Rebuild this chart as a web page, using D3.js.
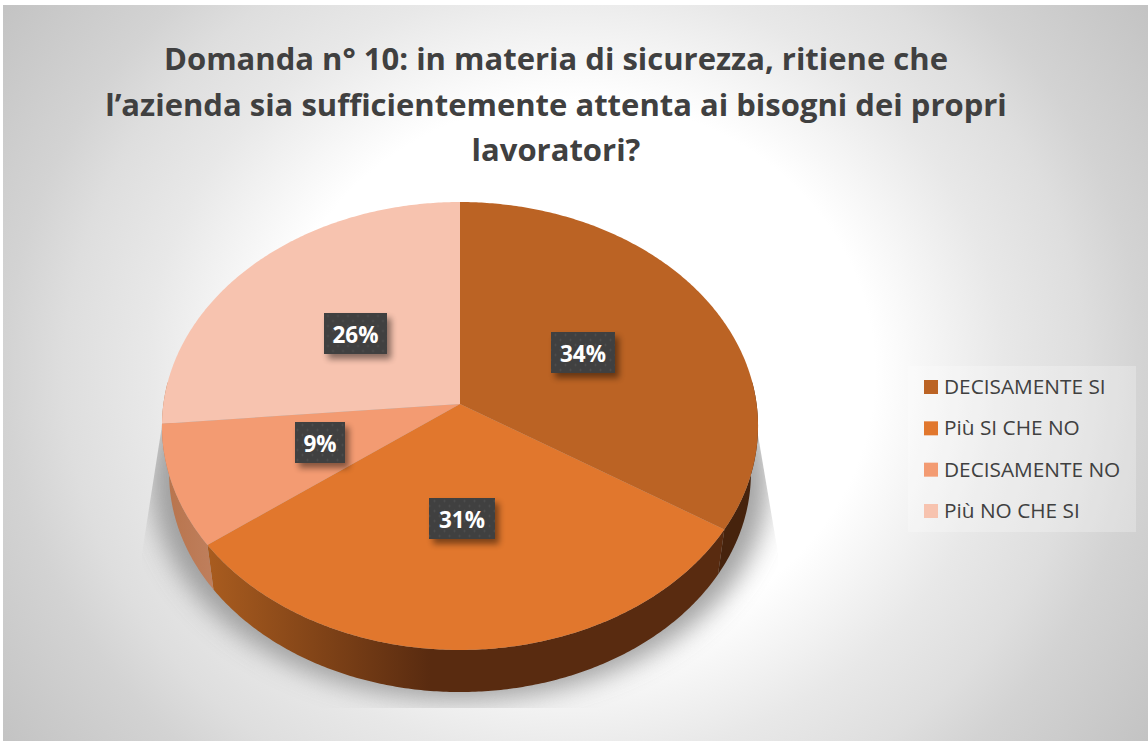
<!DOCTYPE html>
<html>
<head>
<meta charset="utf-8">
<script src="https://cdn.jsdelivr.net/npm/d3@7"></script>
<style>
    html, body { margin: 0; padding: 0; background: #fff; }
    svg { display: block; }
</style>
</head>
<body>
<div id="chart"></div>
<script>
const titleLines = [
    'Domanda n° 10: in materia di sicurezza, ritiene che',
    'l’azienda sia sufficientemente attenta ai bisogni dei propri',
    'lavoratori?'
];
const categories = ['DECISAMENTE SI', 'Più SI CHE NO', 'DECISAMENTE NO', 'Più NO CHE SI'];
const values = [34.0, 30.8, 8.8, 26.4];
const topColors = ['#bb6324', '#e1772d', '#f39b72', '#f7c3af'];

const width = 1148;
const height = 741;

const svg = d3.select('#chart').append('svg')
    .attr('width', width)
    .attr('height', height);

const defs = svg.append('defs');

// Background: grey edges fading to a white middle
let bg = defs.append('radialGradient')
    .attr('id', 'bg')
    .attr('gradientUnits', 'userSpaceOnUse')
    .attr('cx', 575).attr('cy', 372).attr('r', 702)
    .attr('gradientTransform', 'translate(0,372) scale(1,0.909) translate(0,-372)');
bg.append('stop').attr('offset', '0').attr('stop-color', '#ffffff');
bg.append('stop').attr('offset', '0.427').attr('stop-color', '#ffffff');
bg.append('stop').attr('offset', '0.61').attr('stop-color', '#e8e8e8');
bg.append('stop').attr('offset', '0.727').attr('stop-color', '#dedede');
bg.append('stop').attr('offset', '0.81').attr('stop-color', '#d3d3d3');
bg.append('stop').attr('offset', '1').attr('stop-color', '#c3c3c3');

let wallGrad = defs.append('linearGradient')
    .attr('id', 'wallOrange')
    .attr('gradientUnits', 'userSpaceOnUse')
    .attr('x1', 208).attr('x2', 430).attr('y1', 0).attr('y2', 0);
wallGrad.append('stop').attr('offset', '0').attr('stop-color', '#a95c1f');
wallGrad.append('stop').attr('offset', '1').attr('stop-color', '#592b10');

let wallGradLight = defs.append('linearGradient')
    .attr('id', 'wallLight')
    .attr('gradientUnits', 'userSpaceOnUse')
    .attr('x1', 165).attr('x2', 214).attr('y1', 0).attr('y2', 0);
wallGradLight.append('stop').attr('offset', '0').attr('stop-color', '#b8744c');
wallGradLight.append('stop').attr('offset', '1').attr('stop-color', '#bf7f5d');

defs.append('filter').attr('id', 'shadowBlur')
    .attr('x', '-20%').attr('y', '-20%').attr('width', '140%').attr('height', '140%')
    .append('feGaussianBlur').attr('stdDeviation', 13);

defs.append('filter').attr('id', 'labelBlur')
    .attr('x', '-30%').attr('y', '-30%').attr('width', '160%').attr('height', '160%')
    .append('feGaussianBlur').attr('stdDeviation', 3);

let dots = defs.append('pattern')
    .attr('id', 'dots')
    .attr('patternUnits', 'userSpaceOnUse')
    .attr('width', 10).attr('height', 10);
dots.append('rect').attr('width', 10).attr('height', 10).attr('fill', '#404040');
dots.append('circle').attr('cx', 2.5).attr('cy', 2.5).attr('r', 1).attr('fill', '#505050');
dots.append('circle').attr('cx', 7.5).attr('cy', 7.5).attr('r', 1).attr('fill', '#505050');

// Shadow box narrows towards the top, sides lean in
defs.append('clipPath').attr('id', 'shadowClip')
    .append('polygon')
    .attr('points', '166,400 142,553 142,708 778,708 778,553 752,400');

svg.append('rect')
    .attr('x', 3).attr('y', 5)
    .attr('width', width - 3).attr('height', height - 5)
    .attr('fill', 'url(#bg)');

// Title
const title = svg.append('text')
    .attr('text-anchor', 'middle')
    .attr('font-family', '"Open Sans", sans-serif')
    .attr('font-weight', 700)
    .attr('font-size', 31)
    .attr('fill', '#404040');
titleLines.forEach((line, i) => {
    title.append('tspan')
        .attr('x', 556)
        .attr('y', 70 + i * 45.5)
        .text(line);
});

// Pie angles, then a perspective mapping from the unit circle to the screen
const pie = d3.pie().sort(null).value(d => d);
const arcs = pie(values);

const cx = 460, cy = 404, radiusX = 296.6, radiusY = 221.8, tilt = 0.0982;
const depth = 48, shrink = 0.976;

function project(angle, r, bottom) {
    let u = r * Math.sin(angle);
    let v = -r * Math.cos(angle);
    let d = 1 - tilt * v;
    let x = radiusX * u / d;
    let y = radiusY * v / d;
    if (bottom) {
        return [cx + x * shrink, cy + y * shrink + depth];
    }
    return [cx + x, cy + y];
}

const line = d3.line();

function rim(a0, a1, bottom) {
    let n = Math.max(2, Math.ceil((a1 - a0) / 0.01));
    let scale = d3.scaleLinear().domain([0, n]).range([a0, a1]);
    return d3.range(n + 1).map(i => project(scale(i), 1, bottom));
}

// Ground shadow, clipped by its box like in the original
svg.append('g')
    .attr('clip-path', 'url(#shadowClip)')
    .append('path')
    .attr('d', line(rim(0, 2 * Math.PI, true).map(p => [cx + (p[0] - cx) * 1.06, p[1] + 8])) + 'Z')
    .attr('fill', '#8c8c8c')
    .attr('opacity', 0.8)
    .attr('filter', 'url(#shadowBlur)');

// Side wall, only on the front half
const wallFills = ['#46230d', 'url(#wallOrange)', 'url(#wallLight)', '#b8744c'];
const wallFrom = Math.PI / 2 - 0.1, wallTo = 3 * Math.PI / 2 + 0.1;
svg.append('g').selectAll('path')
    .data(arcs)
    .join('path')
    .attr('d', d => {
        let a0 = Math.max(d.startAngle, wallFrom);
        let a1 = Math.min(d.endAngle, wallTo);
        if (a1 <= a0) return null;
        return line(rim(a0, a1, false).concat(rim(a0, a1, true).reverse())) + 'Z';
    })
    .attr('fill', (d, i) => wallFills[i]);

// Top face
svg.append('g').selectAll('path')
    .data(arcs)
    .join('path')
    .attr('d', d => line([[cx, cy]].concat(rim(d.startAngle, d.endAngle, false))) + 'Z')
    .attr('fill', (d, i) => topColors[i]);

// Data labels
const labelW = [64, 66, 50, 63];
const labelAt = [[583, 352.5], [462, 518.5], [320, 442.5], [355.5, 333.5]];
const labels = svg.append('g').selectAll('g')
    .data(arcs)
    .join('g')
    .attr('transform', (d, i) => `translate(${labelAt[i][0]},${labelAt[i][1]})`);
labels.append('rect')
    .attr('x', (d, i) => -labelW[i] / 2 + 4).attr('y', -20.5 + 5)
    .attr('width', (d, i) => labelW[i]).attr('height', 41)
    .attr('fill', '#000').attr('opacity', 0.45)
    .attr('filter', 'url(#labelBlur)');
labels.append('rect')
    .attr('x', (d, i) => -labelW[i] / 2).attr('y', -20.5)
    .attr('width', (d, i) => labelW[i]).attr('height', 41)
    .attr('fill', 'url(#dots)');
labels.append('text')
    .attr('text-anchor', 'middle')
    .attr('y', 9)
    .attr('font-family', '"Open Sans", sans-serif')
    .attr('font-weight', 700)
    .attr('font-size', 22.5)
    .attr('fill', '#fff')
    .text(d => Math.round(d.value) + '%');

// Legend
svg.append('rect')
    .attr('x', 908).attr('y', 366)
    .attr('width', 228).attr('height', 166)
    .attr('fill', '#fff').attr('opacity', 0.25);

const legendY = d3.scalePoint().domain(categories).range([387, 511]);
const legend = svg.append('g').selectAll('g')
    .data(categories)
    .join('g')
    .attr('transform', d => `translate(924,${legendY(d)})`);
legend.append('rect')
    .attr('y', -7).attr('width', 14).attr('height', 14)
    .attr('fill', (d, i) => topColors[i]);
legend.append('text')
    .attr('x', 20).attr('y', 7)
    .attr('font-family', '"Open Sans", sans-serif')
    .attr('font-size', 20.8)
    .attr('fill', '#404040')
    .text(d => d);
</script>
</body>
</html>
